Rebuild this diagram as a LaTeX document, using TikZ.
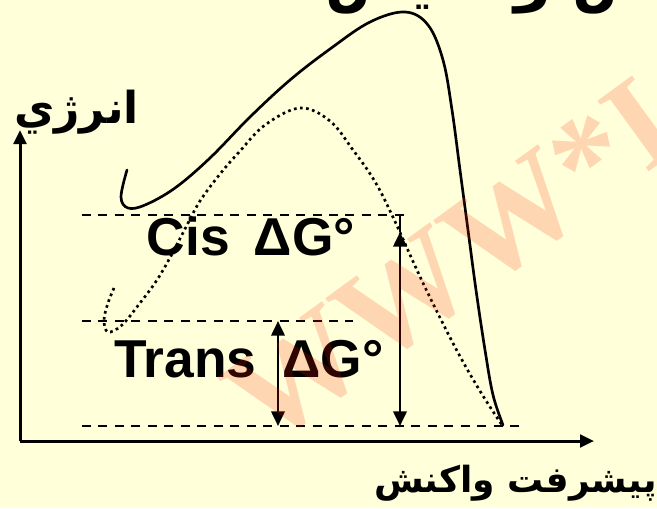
\documentclass[tikz,border=0pt]{standalone}
\usepackage{fontspec}
\setmainfont{Liberation Sans}
\newfontfamily\arabicfont[Script=Arabic]{DejaVu Sans}
\newfontfamily\wmfont{Liberation Serif}
\TeXXeTstate=1
\usetikzlibrary{arrows.meta}
\definecolor{bg}{RGB}{255,255,218}
\definecolor{wm}{RGB}{255,30,0}
\begin{document}
\begin{tikzpicture}[x=0.75pt,y=-0.75pt,
  lbl/.style={inner sep=0pt,font=\fontsize{40pt}{42pt}\selectfont\bfseries},
  albl/.style={inner sep=0pt,font=\arabicfont\fontsize{33pt}{36pt}\selectfont\bfseries},
  alblx/.style={inner sep=0pt,font=\arabicfont\fontsize{27pt}{30pt}\selectfont\bfseries},
  albltitle/.style={inner sep=0pt,font=\arabicfont\fontsize{45pt}{48pt}\selectfont\bfseries},
  axis/.style={line width=2.25pt,-{Triangle[width=9.5pt,length=10.5pt]}},
  level/.style={line width=1.9pt,dash pattern=on 6.75pt off 5.6pt},
  dg/.style={line width=2pt},
  barrier/.style={line width=2pt,line cap=round,line join=round},
  dotbarrier/.style={line width=2pt,dash pattern=on 2pt off 2.6pt},
  wmark/.style={inner sep=0pt,text=wm,text opacity=0.18,font=\wmfont\fontsize{100pt}{104pt}\selectfont\bfseries,rotate=36}
]
\fill[bg] (0,0) rectangle (657,508);
\useasboundingbox (0,0) rectangle (657,508);
\clip (0,0) rectangle (657,508);

% cut-off title
\node[albltitle,anchor=base west] (title) at (325,-1) {\beginR ترانس و سيس\endR};

% axes
\coordinate (O) at (20,441);
\coordinate (ytop) at (20,130);
\coordinate (xend) at (594,441);
\draw[axis] (O) -- (ytop);
\draw[axis] (O) -- (xend);

% levels
\coordinate (cisL) at (82,215);  \coordinate (cisR) at (408,215);
\coordinate (trL) at (82,321);   \coordinate (trR) at (353,321);
\coordinate (botL) at (82,426);  \coordinate (botR) at (520,426);
\draw[level] (cisL) -- (cisR);
\draw[level] (trL) -- (trR);
\draw[level] (botL) -- (botR);

% solid curve (cis)
\draw[barrier] plot[smooth,tension=0.6] coordinates {
 (127,170) (121,197) (128,208) (145,205) (175,188) (210,158) (250,117)
 (290,80) (330,49) (370,22) (405,12) (428,25) (443,60) (452,110)
 (460,170) (468,230) (476,290) (485,350) (493,395) (503,425)};

% dotted curve (trans)
\draw[dotbarrier] plot[smooth,tension=0.6] coordinates {
 (114,288) (108,303) (104,320) (108,332) (122,325) (140,303) (157,280)
 (172,254) (186,227) (200,201) (220,174) (240,151) (265,125) (300,108)
 (330,121) (353,150) (374,180) (392,215) (423,283) (455,347) (480,391) (502,425)};

% Delta G arrows
\coordinate (cisTop) at (400,215);
\coordinate (cisHead) at (400,232);
\coordinate (cisBot) at (400,426);
\draw[dg] (cisHead) -- (cisTop);
\draw[dg,{Triangle[width=10pt,length=11pt]}-{Triangle[width=10pt,length=11pt]}] (cisHead) -- (cisBot);
\coordinate (trTop) at (278,321);
\coordinate (trBot) at (278,426);
\draw[dg,{Triangle[width=10pt,length=11pt]}-{Triangle[width=10pt,length=11pt]}] (trTop) -- (trBot);

% labels
\node[lbl,anchor=base west] (cis) at (146.5,255) {Cis\hspace{0.45em}ΔG°};
\node[lbl,anchor=base west] (trans) at (114,377) {Trans};
\node[lbl,anchor=base west] (transdg) at (282,377) {ΔG°};
\node[albl,anchor=base west] (energy) at (14,123) {\beginR انرژي\endR};
\node[alblx,anchor=base east] (rxn) at (657,492) {\beginR پيشرفت واكنش\endR};

% watermark
\node[wmark] (wm) at (452,262) {WWW*I};
\end{tikzpicture}
\end{document}
